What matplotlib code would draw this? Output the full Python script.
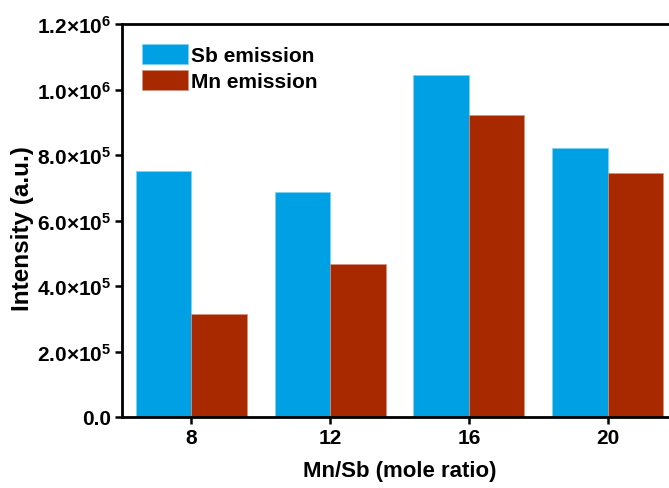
import matplotlib
matplotlib.use("Agg")
import matplotlib.pyplot as plt
import numpy as np

ratios = ["8", "12", "16", "20"]
sb_emission = [750000, 686000, 1045000, 821000]
mn_emission = [314000, 467000, 923000, 745000]
y_ticks = [0, 200000, 400000, 600000, 800000, 1000000, 1200000]
y_tick_labels = ["0.0", r"$2.0{\times}10^{5}$", r"$4.0{\times}10^{5}$", r"$6.0{\times}10^{5}$",
                 r"$8.0{\times}10^{5}$", r"$1.0{\times}10^{6}$", r"$1.2{\times}10^{6}$"]

plt.rcParams["font.family"] = ["Liberation Sans", "DejaVu Sans"]
plt.rcParams["font.weight"] = "bold"
plt.rcParams["mathtext.fontset"] = "custom"
plt.rcParams["mathtext.rm"] = "Liberation Sans:bold"
plt.rcParams["mathtext.bf"] = "Liberation Sans:bold"
plt.rcParams["mathtext.it"] = "Liberation Sans:bold"
plt.rcParams["mathtext.default"] = "rm"

fig = plt.figure(figsize=(6.69, 4.89), dpi=100)
ax = fig.add_axes([122 / 669, 71 / 489, 555 / 669, 393 / 489])

x = np.arange(len(ratios))
w = 0.4
ax.bar(x - w / 2, sb_emission, w, color="#00A0E4", edgecolor="#7fd0f2", linewidth=0.5, label="Sb emission")
ax.bar(x + w / 2, mn_emission, w, color="#A82800", edgecolor="#d49380", linewidth=0.5, label="Mn emission")

ax.set_xlim(-0.5, 3.5)
ax.set_ylim(0, 1200000)
ax.set_xticks(x)
ax.set_xticklabels(ratios)
ax.set_yticks(y_ticks)
ax.set_yticklabels(y_tick_labels)
ax.tick_params(axis="both", direction="out", length=5, width=1.8, labelsize=15, pad=3)

for s in ax.spines.values():
    s.set_linewidth(2)

ax.set_xlabel("Mn/Sb (mole ratio)", fontsize=16, fontweight="bold", labelpad=9)
ax.set_ylabel("Intensity (a.u.)", fontsize=17.5, fontweight="bold")
ax.yaxis.set_label_coords(-0.158, 0.481)

leg = ax.legend(loc="upper left", bbox_to_anchor=(0.01, 0.985), frameon=False, fontsize=15,
                handlelength=2.2, handleheight=1.05, labelspacing=0.24, handletextpad=0.15,
                borderaxespad=0.3)

fig.savefig("out.png", dpi=100)
